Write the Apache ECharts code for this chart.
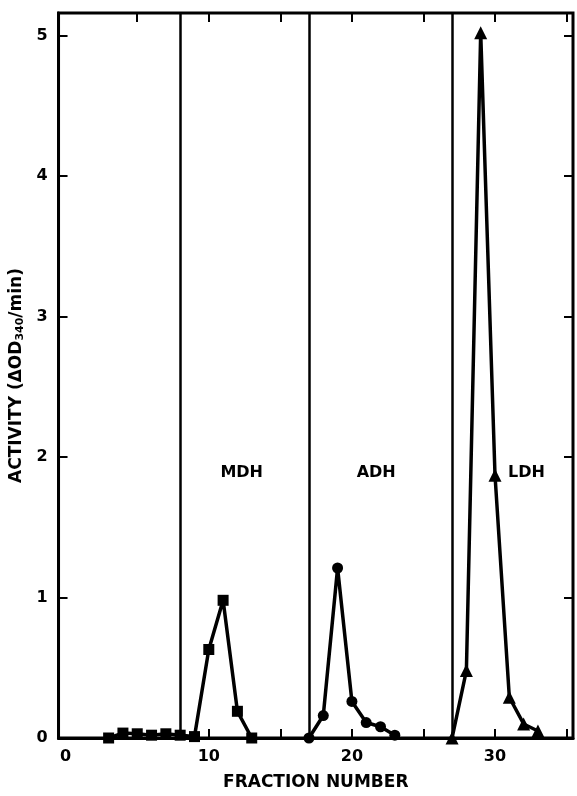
<!DOCTYPE html>
<html>
<head>
<meta charset="utf-8">
<script src="https://cdn.jsdelivr.net/npm/echarts@6/dist/echarts.min.js"></script>
<style>
  html, body { margin: 0; padding: 0; background: #fff; }
  #chart { width: 577px; height: 796px; }
</style>
</head>
<body>
<div id="chart"></div>
<script>
// fractions and activities
var mdhX = [3, 4, 5, 6, 7, 8, 9, 10, 11, 12, 13];
var mdhY = [0, 0.035, 0.03, 0.02, 0.03, 0.02, 0.01, 0.63, 0.98, 0.19, 0];
var adhX = [17, 18, 19, 20, 21, 22, 23];
var adhY = [0, 0.16, 1.21, 0.26, 0.11, 0.08, 0.02];
var ldhX = [27, 28, 29, 30, 31, 32, 33];
var ldhY = [0, 0.48, 5.02, 1.87, 0.29, 0.1, 0.05];
// fraction numbers where the column was cut
var dividers = [8, 17, 27];
// enzyme names and where they stand
var enzymeNames = ['MDH', 'ADH', 'LDH'];
var enzymeX = [12.3, 21.7, 32.2];
var enzymeY = [1.89, 1.89, 1.89];
var xLabels = [0, 10, 20, 30];
var xTicks = [5, 10, 15, 20, 25, 30, 35];
var yTicks = [0, 1, 2, 3, 4, 5];

function pairs(xs, ys) {
    var res = [];
    for (var i = 0; i < xs.length; i++) {
        res.push([xs[i], ys[i]]);
    }
    return res;
}

var font = 'DejaVu Sans';
var chart = echarts.init(document.getElementById('chart'));

function lineSeries(name, xs, ys, symbol) {
    return {
        name: name,
        type: 'line',
        data: pairs(xs, ys),
        symbol: symbol,
        symbolSize: symbol === 'triangle' ? 13 : 11,
        lineStyle: { color: '#000', width: 3.5 },
        itemStyle: { color: '#000' },
        z: 5
    };
}

chart.setOption({
    animation: false,
    grid: {
        left: 58, right: 4, top: 13, bottom: 55,
        show: true, borderColor: '#000', borderWidth: 3,
        backgroundColor: '#fff'
    },
    xAxis: [{
        type: 'value',
        min: -0.5, max: 35.45,
        name: 'FRACTION NUMBER',
        nameLocation: 'middle',
        nameGap: 36,
        nameTextStyle: { fontFamily: font, fontWeight: 'bold', fontSize: 17, color: '#000' },
        axisLine: { show: true, onZero: false, lineStyle: { color: '#000', width: 3 } },
        axisTick: { show: true, inside: true, length: 9, customValues: xTicks, lineStyle: { color: '#000', width: 2 } },
        axisLabel: { customValues: xLabels, margin: 11, fontFamily: font, fontWeight: 'bold', fontSize: 16, color: '#000' },
        splitLine: { show: false }
    }, {
        type: 'value',
        position: 'top',
        min: -0.5, max: 35.45,
        axisLine: { show: false, onZero: false },
        axisTick: { show: true, inside: true, length: 9, customValues: xTicks, lineStyle: { color: '#000', width: 2 } },
        axisLabel: { show: false },
        splitLine: { show: false }
    }],
    yAxis: [{
        type: 'value',
        min: 0, max: 5.16,
        name: '{a|ACTIVITY (ΔOD}{s|340}{a|/min)}',
        nameLocation: 'middle',
        nameGap: 30,
        nameRotate: 90,
        nameTextStyle: {
            rich: {
                a: { fontFamily: font, fontWeight: 'bold', fontSize: 17, color: '#000' },
                s: { fontFamily: font, fontWeight: 'bold', fontSize: 11, color: '#000', verticalAlign: 'bottom', padding: [7, 0, 0, 0] }
            }
        },
        axisLine: { show: true, onZero: false, lineStyle: { color: '#000', width: 3 } },
        axisTick: { show: true, inside: true, length: 9, customValues: yTicks, lineStyle: { color: '#000', width: 2 } },
        axisLabel: { customValues: yTicks, margin: 11, fontFamily: font, fontWeight: 'bold', fontSize: 16, color: '#000' },
        splitLine: { show: false }
    }, {
        type: 'value',
        position: 'right',
        min: 0, max: 5.16,
        axisLine: { show: false, onZero: false },
        axisTick: { show: true, inside: true, length: 9, customValues: yTicks, lineStyle: { color: '#000', width: 2 } },
        axisLabel: { show: false },
        splitLine: { show: false }
    }],
    series: [
        lineSeries('MDH', mdhX, mdhY, 'rect'),
        lineSeries('ADH', adhX, adhY, 'circle'),
        lineSeries('LDH', ldhX, ldhY, 'triangle'),
        {
            type: 'line',
            data: [],
            markLine: {
                silent: true,
                symbol: 'none',
                label: { show: false },
                lineStyle: { color: '#000', width: 2.5, type: 'solid' },
                data: dividers.map(function (d) { return { xAxis: d }; })
            }
        },
        {
            type: 'scatter',
            symbolSize: 1,
            itemStyle: { color: 'rgba(0,0,0,0)', opacity: 1 },
            data: pairs(enzymeX, enzymeY).map(function (p, i) {
                return { value: p, name: enzymeNames[i] };
            }),
            label: {
                show: true,
                position: 'inside',
                formatter: '{b}',
                fontFamily: font,
                fontWeight: 'bold',
                fontSize: 16,
                color: '#000',
                opacity: 1
            }
        }
    ]
});
</script>
</body>
</html>
